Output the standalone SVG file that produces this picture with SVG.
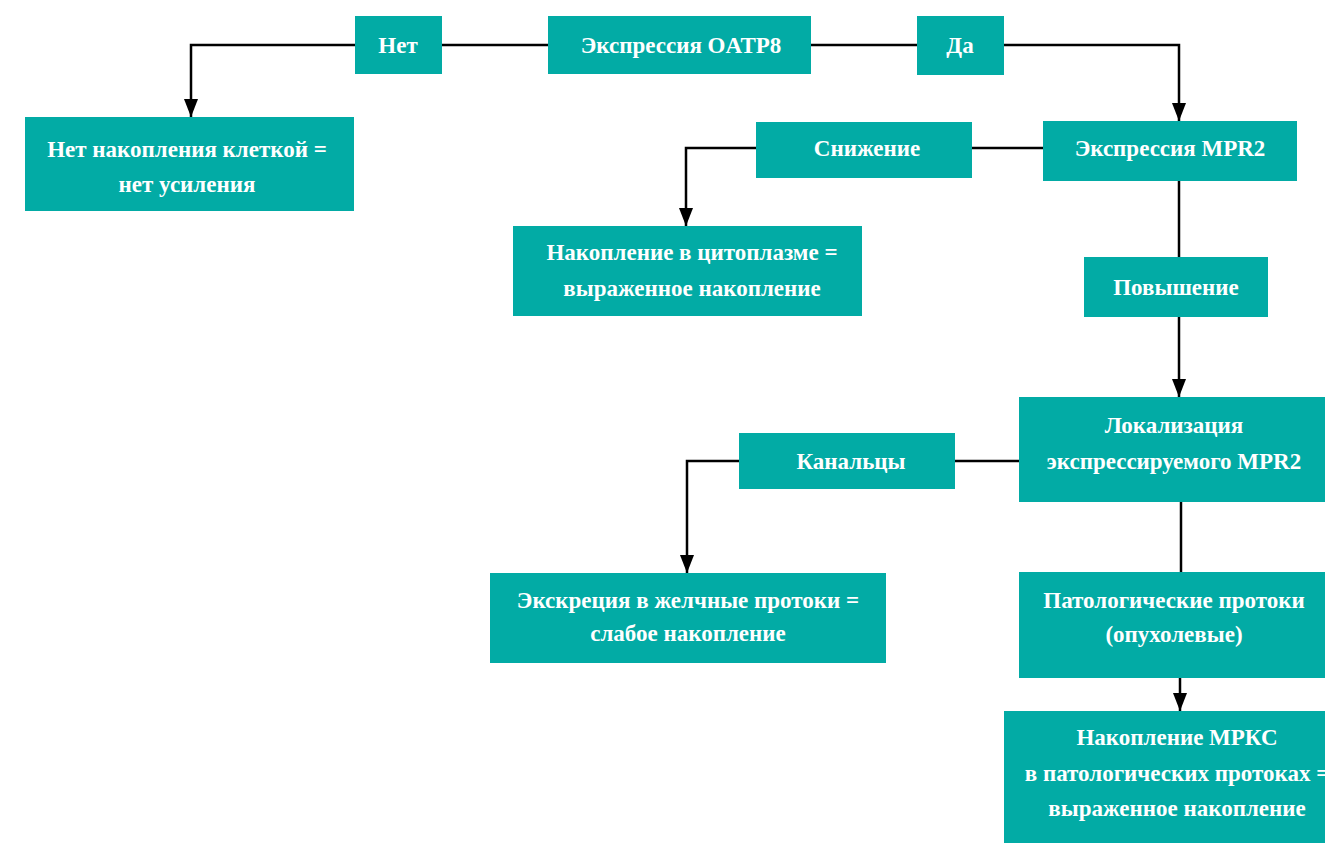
<svg xmlns="http://www.w3.org/2000/svg" width="1325" height="843" viewBox="0 0 1325 843">
<style>
.box{fill:#02ABA5}
.t{font-family:"Liberation Serif","Times New Roman",Times,serif;font-weight:bold;font-size:23px;fill:#FFFFFF;text-anchor:middle}
.c{fill:none;stroke:#000;stroke-width:2.5}
</style>
<defs>
<marker id="ah" markerWidth="18" markerHeight="14" refX="18" refY="7" orient="auto" markerUnits="userSpaceOnUse" viewBox="0 0 18 14">
<path d="M0,0 L18,7 L0,14 Z" fill="#000"/>
</marker>
</defs>
<rect width="1325" height="843" fill="#fff"/>
<g id="connectors">
<path class="c" d="M355,45 H191 V117" marker-end="url(#ah)"/>
<path class="c" d="M442,45 H548"/>
<path class="c" d="M811,45 H917"/>
<path class="c" d="M1004,45 H1179 V121" marker-end="url(#ah)"/>
<path class="c" d="M1043,148 H972"/>
<path class="c" d="M756,148 H686 V226" marker-end="url(#ah)"/>
<path class="c" d="M1179,181 V257"/>
<path class="c" d="M1179,317 V397" marker-end="url(#ah)"/>
<path class="c" d="M1019,461 H955"/>
<path class="c" d="M739,461 H687 V573" marker-end="url(#ah)"/>
<path class="c" d="M1181,502 V572"/>
<path class="c" d="M1180,678 V711" marker-end="url(#ah)"/>
</g>
<g id="n-no">
<rect class="box" x="355" y="16" width="87" height="58"/>
<text class="t" x="398" y="53">Нет</text>
</g>
<g id="n-oatp8">
<rect class="box" x="548" y="16" width="263" height="58"/>
<text class="t" x="681" y="53">Экспрессия OATP8</text>
</g>
<g id="n-yes">
<rect class="box" x="917" y="16" width="87" height="59"/>
<text class="t" x="960" y="53">Да</text>
</g>
<g id="n-noacc">
<rect class="box" x="25" y="117" width="329" height="94"/>
<text class="t" x="187" y="157">Нет накопления клеткой =</text>
<text class="t" x="187" y="192">нет усиления</text>
</g>
<g id="n-mpr2">
<rect class="box" x="1043" y="121" width="254" height="60"/>
<text class="t" x="1170" y="156">Экспрессия MPR2</text>
</g>
<g id="n-decrease">
<rect class="box" x="756" y="122" width="216" height="56"/>
<text class="t" x="867" y="156">Снижение</text>
</g>
<g id="n-cyto">
<rect class="box" x="513" y="226" width="349" height="90"/>
<text class="t" x="692" y="260">Накопление в цитоплазме =</text>
<text class="t" x="692" y="296">выраженное накопление</text>
</g>
<g id="n-increase">
<rect class="box" x="1084" y="257" width="184" height="60"/>
<text class="t" x="1176" y="295">Повышение</text>
</g>
<g id="n-local">
<rect class="box" x="1019" y="397" width="306" height="105"/>
<text class="t" x="1174" y="433">Локализация</text>
<text class="t" x="1174" y="469">экспрессируемого MPR2</text>
</g>
<g id="n-canal">
<rect class="box" x="739" y="433" width="216" height="56"/>
<text class="t" x="851" y="469">Канальцы</text>
</g>
<g id="n-excr">
<rect class="box" x="490" y="573" width="396" height="90"/>
<text class="t" x="688" y="608">Экскреция в желчные протоки =</text>
<text class="t" x="688" y="641">слабое накопление</text>
</g>
<g id="n-path">
<rect class="box" x="1019" y="572" width="306" height="106"/>
<text class="t" x="1174" y="608">Патологические протоки</text>
<text class="t" x="1174" y="642">(опухолевые)</text>
</g>
<g id="n-mrkc">
<rect class="box" x="1004" y="711" width="321" height="132"/>
<text class="t" x="1177" y="745">Накопление МРКС</text>
<text class="t" x="1177" y="781">в патологических протоках =</text>
<text class="t" x="1177" y="816">выраженное накопление</text>
</g>
</svg>
